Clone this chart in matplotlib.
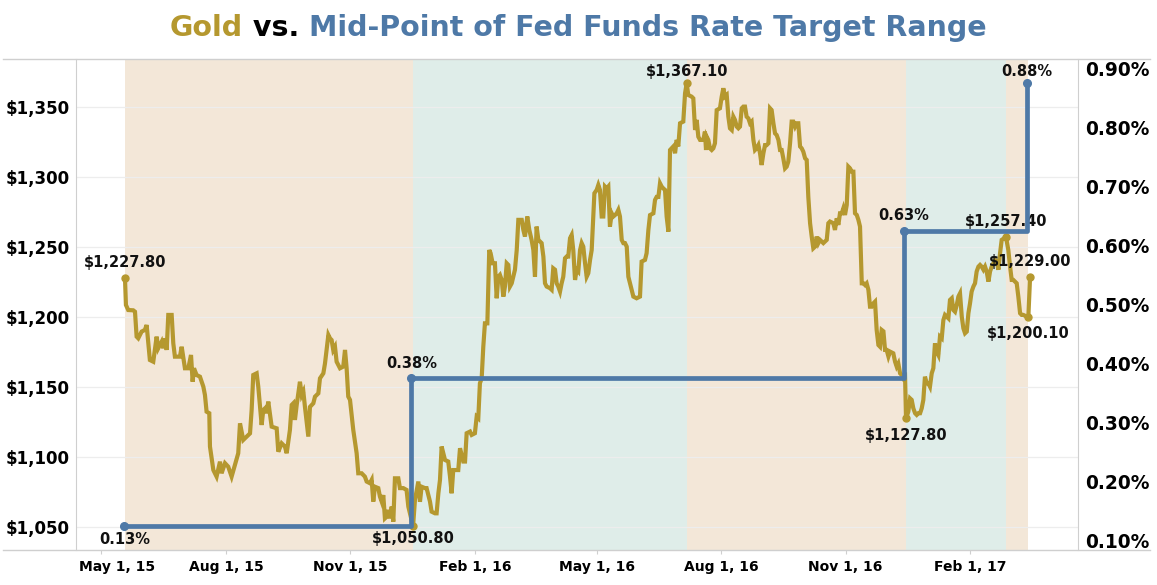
import numpy as np
import pandas as pd
import matplotlib
matplotlib.use("Agg")
import matplotlib.pyplot as plt
from matplotlib.lines import Line2D
from matplotlib.transforms import ScaledTranslation

GOLD = "#B5982F"
BLUE = "#4E79A7"
TAN = "#F3E7D8"
TEAL = "#DFEDE9"
RULE = "#CFCFCF"

START = pd.Timestamp("2015-05-01")

# gold price: days after 2015-05-01, USD/oz
gold_day = [
    17.4, 18.1, 19.8, 23.5, 24.8, 26.0, 27.2, 29.7, 32.1, 33.4,
    35.8, 38.3, 40.8, 42.0, 44.5, 45.7, 46.9, 48.2, 49.4, 51.9,
    53.1, 54.3, 58.0, 59.3, 61.7, 64.2, 66.2, 67.4, 68.4, 70.3,
    72.8, 75.3, 76.5, 77.7, 79.7, 80.2, 82.7, 85.1, 87.6, 88.8,
    91.3, 93.7, 96.2, 98.7, 101.1, 102.4, 104.8, 107.3, 109.8, 111.0,
    112.2, 114.7, 115.9, 118.4, 119.6, 120.9, 122.1, 123.3, 125.8, 129.5,
    130.7, 133.2, 135.6, 136.9, 139.3, 140.6, 141.8, 143.0, 144.3, 146.7,
    148.0, 149.2, 150.4, 152.9, 154.1, 156.6, 157.8, 160.3, 161.5, 164.0,
    165.2, 167.7, 168.9, 170.1, 171.3, 172.6, 173.8, 176.3, 178.7, 180.0,
    181.2, 182.4, 183.7, 186.1, 188.6, 189.8, 192.3, 194.7, 196.0, 198.4,
    199.7, 200.9, 202.1, 204.6, 205.8, 207.1, 208.3, 209.5, 210.8, 212.0,
    213.2, 214.5, 215.7, 216.9, 219.4, 220.6, 223.1, 225.5, 226.8, 228.0,
    230.3,
    231.7, 234.2, 235.4, 236.6, 239.1, 240.3, 242.8, 244.0, 246.5, 247.7,
    249.0, 250.2, 251.4, 253.9, 256.3, 257.6, 258.8, 260.0, 263.7, 265.0,
    267.4, 268.7, 269.9, 272.4, 273.6, 276.0, 277.3, 278.5, 279.7, 281.0,
    282.2, 283.4, 285.2, 286.6, 287.6, 289.1, 290.8, 292.1, 293.3, 294.5,
    295.8, 297.0, 298.2, 299.5, 300.7, 301.9, 303.2, 305.6, 306.9, 308.1,
    310.6, 311.8, 313.0, 314.7, 316.2, 317.9, 319.2, 320.4, 321.6, 322.9,
    324.1, 325.3, 326.6, 327.8, 329.0, 331.5, 332.7, 333.9, 335.2, 336.4,
    337.6, 338.9, 340.1, 341.3, 342.6, 343.8, 345.0, 346.3, 347.5, 348.7,
    350.0, 351.2, 352.4, 353.7, 354.9, 356.1, 357.4, 358.6, 359.8, 361.1,
    362.3, 363.5, 364.3, 366.0, 367.2, 368.4, 369.7, 370.9, 372.1, 373.4,
    374.6, 375.8, 377.1, 378.3, 379.5, 380.8, 382.0, 383.2, 384.5, 385.7,
    386.9, 388.2, 389.4, 390.6, 393.1, 395.5, 398.0, 399.2, 401.7, 402.9,
    404.2, 405.4, 407.9, 409.1, 410.3, 411.6, 412.8, 414.0, 415.3, 416.5,
    417.7, 419.0, 420.2, 421.4, 422.6, 423.9, 425.1, 426.3, 427.6, 430.0,
    431.3, 432.5,
    433.7, 436.2, 437.4, 438.7, 439.9, 441.1, 442.4, 444.8, 446.0, 446.8,
    447.3, 448.5, 449.7, 451.0, 452.2, 453.4, 454.7, 457.1, 458.4, 459.6,
    460.8, 462.1, 463.3, 464.5, 465.8, 467.0, 468.2, 469.5, 470.7, 471.9,
    473.2, 474.4, 475.6, 476.8, 478.1, 479.3, 480.5, 481.8, 483.0, 484.2,
    485.5, 486.7, 487.9, 489.2, 490.4, 491.6, 492.9, 494.1, 495.3, 496.6,
    497.8, 499.0, 500.3, 501.5, 502.7, 503.9, 505.2, 506.4, 507.6, 508.9,
    510.1, 511.3, 512.6, 513.8, 515.0, 516.3, 517.5, 518.7, 520.0, 521.2,
    522.4, 523.7, 524.9, 526.1, 527.4, 528.6, 529.8, 531.0, 532.3, 533.5,
    534.7, 536.0, 537.2, 538.4, 540.9, 542.1, 543.4, 544.6, 545.8, 547.1,
    548.3, 549.5, 550.8, 552.0, 553.2, 554.5, 555.7, 556.9, 558.2, 559.4,
    560.6, 561.9, 563.1, 564.3, 565.5, 566.8, 568.0, 569.2, 570.5, 571.7,
    572.9, 574.2, 575.4, 576.6, 577.9, 579.1, 580.3, 581.6, 582.8, 585.2,
    586.5, 587.7, 588.9, 590.2, 591.4, 592.6, 593.9, 594.6,
    596.3, 597.6, 598.8, 600.0, 601.3, 602.5, 603.7, 605.0, 606.2, 607.4,
    608.6, 609.9, 611.1, 612.3, 613.6, 614.8, 616.0, 617.3, 618.5, 619.7,
    621.0, 622.2, 623.4, 624.7, 625.9, 627.1, 628.4, 629.6, 630.8, 632.1,
    633.3, 634.5, 635.8, 637.0, 638.2, 639.5, 640.7, 641.9, 643.1, 644.4,
    645.6, 646.8, 648.1, 649.3, 650.5, 651.8, 653.0, 654.2, 655.5, 656.7,
    657.9, 659.2, 660.4, 661.6, 662.9, 664.1, 665.3, 668.5, 670.2, 671.5,
    672.7, 673.9, 675.2, 676.4, 677.6, 678.9, 680.1, 681.3, 683.8, 685.0,
    686.3,
]
gold_usd = [
    1227.8, 1208.8, 1205.2, 1205.0, 1204.0, 1186.2, 1185.0, 1189.8, 1191.0, 1194.5,
    1169.5, 1168.3, 1186.2, 1177.9, 1182.6, 1177.9, 1185.0, 1176.7, 1201.7, 1201.7,
    1181.4, 1171.9, 1171.9, 1179.0, 1163.6, 1163.6, 1173.1, 1154.0, 1163.6, 1158.8,
    1157.6, 1150.5, 1144.5, 1132.6, 1131.5, 1107.7, 1090.9, 1086.2, 1096.9, 1088.6,
    1095.8, 1093.3, 1086.2, 1094.6, 1102.9, 1124.3, 1112.4, 1114.8, 1117.1, 1133.8,
    1158.8, 1160.0, 1150.5, 1123.1, 1133.8, 1135.0, 1131.5, 1139.8, 1121.9, 1120.7,
    1104.0, 1110.0, 1107.7, 1102.9, 1119.6, 1137.4, 1138.6, 1126.7, 1137.4, 1154.0,
    1144.5, 1147.0, 1136.0, 1114.8, 1136.0, 1138.6, 1143.3, 1145.7, 1156.4, 1160.0,
    1167.0, 1187.4, 1185.0, 1183.8, 1176.7, 1179.0, 1168.3, 1163.6, 1164.8, 1176.7,
    1163.6, 1143.4, 1141.0, 1119.6, 1102.9, 1088.6, 1088.6, 1086.2, 1082.7, 1081.5,
    1083.9, 1068.4, 1079.0, 1078.0, 1072.0, 1068.4, 1073.0, 1056.4, 1057.6, 1062.4,
    1056.4, 1064.8, 1054.0, 1085.0, 1085.0, 1078.0, 1078.0, 1076.7, 1064.8, 1060.0,
    1050.8,
    1069.6, 1082.7, 1068.2, 1079.0, 1078.0, 1078.0, 1068.4, 1061.2, 1060.0, 1060.0,
    1074.3, 1083.9, 1107.7, 1098.1, 1097.0, 1086.2, 1074.3, 1090.9, 1090.9, 1106.5,
    1097.0, 1097.0, 1117.2, 1118.4, 1116.0, 1117.2, 1129.0, 1127.9, 1152.9, 1156.4,
    1179.0, 1195.7, 1195.7, 1248.1, 1245.8, 1238.6, 1238.6, 1213.6, 1229.0, 1230.3,
    1226.7, 1214.8, 1222.0, 1238.6, 1237.4, 1222.0, 1224.3, 1234.0, 1248.0, 1269.6,
    1269.6, 1262.4, 1257.7, 1272.0, 1262.4, 1255.3, 1248.0, 1229.0, 1264.8, 1255.3,
    1254.1, 1253.0, 1243.4, 1224.3, 1222.0, 1220.8, 1219.7, 1235.0, 1234.0, 1224.3,
    1222.0, 1218.4, 1224.3, 1229.0, 1242.2, 1243.4, 1243.4, 1256.5, 1258.8, 1248.0,
    1226.7, 1234.0, 1232.7, 1248.0, 1253.0, 1250.5, 1238.6, 1229.0, 1231.5, 1241.0,
    1248.0, 1272.0, 1288.6, 1291.0, 1294.5, 1291.0, 1272.0, 1272.0, 1293.4, 1292.0,
    1293.4, 1264.8, 1274.3, 1272.0, 1273.0, 1274.3, 1276.7, 1272.0, 1255.3, 1253.0,
    1253.0, 1250.5, 1229.0, 1224.3, 1214.8, 1213.6, 1214.8, 1239.8, 1241.0, 1245.8,
    1262.4, 1273.0, 1274.3, 1283.8, 1286.0, 1286.0, 1295.7, 1293.4, 1292.0, 1291.0,
    1272.0, 1261.2, 1319.5, 1320.7, 1322.0, 1317.2, 1326.7, 1322.0, 1338.6, 1339.8,
    1360.0, 1367.1,
    1358.8, 1357.6, 1356.4, 1333.8, 1341.0, 1329.0, 1326.7, 1326.7, 1332.6, 1319.5,
    1329.0, 1326.7, 1320.7, 1319.5, 1320.7, 1324.3, 1348.0, 1349.3, 1357.6, 1363.6,
    1357.6, 1358.8, 1343.3, 1335.0, 1333.8, 1343.3, 1341.0, 1336.2, 1335.0, 1336.2,
    1349.3, 1350.5, 1350.5, 1343.3, 1342.1, 1338.6, 1339.8, 1326.7, 1319.5, 1320.7,
    1323.0, 1317.2, 1308.8, 1317.2, 1323.0, 1323.0, 1324.3, 1349.3, 1348.0, 1338.6,
    1331.4, 1330.2, 1326.7, 1319.5, 1319.5, 1313.6, 1306.4, 1307.6, 1311.2, 1324.3,
    1339.8, 1339.8, 1336.2, 1338.6, 1338.6, 1322.0, 1320.7, 1318.3, 1313.6, 1312.4,
    1286.0, 1267.2, 1257.7, 1249.3, 1250.5, 1257.7, 1253.0, 1255.3, 1254.1, 1253.0,
    1254.1, 1255.3, 1267.2, 1268.4, 1267.2, 1262.4, 1270.7, 1266.0, 1274.3, 1274.3,
    1277.9, 1273.1, 1280.3, 1307.6, 1306.4, 1304.0, 1304.0, 1274.3, 1273.1, 1269.6,
    1264.8, 1224.3, 1224.3, 1223.1, 1224.3, 1219.6, 1207.6, 1207.6, 1210.0, 1211.2,
    1191.0, 1180.2, 1179.0, 1191.0, 1190.0, 1176.7, 1176.7, 1172.0, 1175.5, 1174.3,
    1168.3, 1164.8, 1167.0, 1160.0, 1158.8, 1156.4, 1157.6, 1127.8,
    1132.6, 1142.1, 1141.0, 1135.0, 1131.5, 1130.3, 1131.5, 1131.5, 1135.0, 1141.0,
    1157.6, 1152.9, 1152.9, 1150.5, 1160.0, 1163.6, 1181.4, 1175.5, 1173.1, 1186.2,
    1185.0, 1198.0, 1201.7, 1200.5, 1199.3, 1212.4, 1213.6, 1205.2, 1204.0, 1208.8,
    1214.8, 1217.1, 1200.5, 1192.1, 1188.6, 1189.8, 1202.9, 1210.0, 1218.4, 1222.0,
    1224.3, 1232.7, 1236.2, 1237.4, 1236.2, 1234.0, 1236.2, 1232.7, 1225.5, 1232.7,
    1236.2, 1238.6, 1241.0, 1239.8, 1234.0, 1245.8, 1255.3, 1257.4, 1248.0, 1236.2,
    1226.7, 1226.7, 1225.5, 1224.3, 1214.8, 1202.9, 1201.7, 1201.7, 1200.5, 1200.1,
    1229.0,
]

# labelled gold points (days after 2015-05-01)
mark_day = [17.4, 230.3, 432.5, 594.6, 668.5, 685.0, 686.3]
mark_usd = [1227.8, 1050.8, 1367.1, 1127.8, 1257.4, 1200.1, 1229.0]

# mid-point of the fed funds target range
fed_dates = ["2015-05-18", "2015-12-16", "2016-12-14", "2017-03-15"]
fed_mid = [0.125, 0.375, 0.625, 0.875]
fed_text = ["0.13%", "0.38%", "0.63%", "0.88%"]

# shaded trend bands between gold turning points
band_edges = [17.4, 230.3, 432.5, 594.6, 668.5, 685.0]
band_colors = [TAN, TEAL, TAN, TEAL, TAN]

xtick_dates = ["2015-05-01", "2015-08-01", "2015-11-01", "2016-02-01",
               "2016-05-01", "2016-08-01", "2016-11-01", "2017-02-01"]
xtick_text = ["May 1, 15", "Aug 1, 15", "Nov 1, 15", "Feb 1, 16",
              "May 1, 16", "Aug 1, 16", "Nov 1, 16", "Feb 1, 17"]
usd_ticks = [1050, 1100, 1150, 1200, 1250, 1300, 1350]
pct_ticks = [0.1, 0.2, 0.3, 0.4, 0.5, 0.6, 0.7, 0.8, 0.9]


def to_date(days):
    return START + pd.to_timedelta(np.asarray(days, dtype=float), unit="D")


plt.rcParams["font.family"] = ["DejaVu Sans"]
W, H = 1157, 585
fig = plt.figure(figsize=(W / 100, H / 100), dpi=100)
ax = fig.add_axes([76 / W, 1 - 550 / H, (1078 - 76) / W, (550 - 59) / H])
ax2 = ax.twinx()

ax.set_xlim(to_date([-18.8])[0], to_date([721.7])[0])
ax.set_ylim(1033.8, 1384.5)
ax2.set_ylim(0.0843, 0.916)

# bands
edges = to_date(band_edges)
for i, c in enumerate(band_colors):
    ax.axvspan(edges[i], edges[i + 1], color=c, lw=0, zorder=0)

# light grid at $ ticks, over the bands
for v in usd_ticks:
    ax.axhline(v, color="#EDEDED", lw=0.9, zorder=0.6)

# gold line
ax.plot(to_date(gold_day), gold_usd, color=GOLD, lw=3.0, solid_joinstyle="miter", zorder=3)
ax.plot(to_date(mark_day), mark_usd, "o", color=GOLD, ms=5, zorder=4)

# fed funds step line
fd = pd.to_datetime(fed_dates)
ax2.plot(fd, fed_mid, drawstyle="steps-post", color=BLUE, lw=3.4, zorder=3)
ax2.plot(fd, fed_mid, "o", color=BLUE, ms=5.5, zorder=4)

lab = dict(fontsize=10.5, fontweight="bold", color="#111111", ha="center", va="center",
           textcoords="offset points")
gold_dy = [11.3, -8.6, 8.4, -12.2, 10.8, -12.0, 11.3]
for d, v, dy in zip(to_date(mark_day), mark_usd, gold_dy):
    ax.annotate(f"${v:,.2f}", (d, v), xytext=(0, dy), zorder=6, **lab)
fed_dy = [-9.6, 11.0, 11.0, 8.4]
for d, v, t, dy in zip(fd, fed_mid, fed_text, fed_dy):
    ax2.annotate(t, (d, v), xytext=(0, dy), zorder=6, **lab)

# axes styling
for a in (ax, ax2):
    for s in a.spines.values():
        s.set_visible(False)
ax.spines["left"].set_visible(True)
ax.spines["left"].set_color(RULE)
ax.spines["right"].set_visible(True)
ax.spines["right"].set_color(RULE)

ax.set_yticks(usd_ticks)
ax.set_yticklabels([f"${v:,.0f}" for v in usd_ticks])
ax.tick_params(axis="y", length=0, pad=4.5, labelsize=12)
ax2.set_yticks(pct_ticks)
ax2.set_yticklabels([f"{v:.2f}%" for v in pct_ticks])
ax2.tick_params(axis="y", length=0, pad=5, labelsize=13.4)
for t in ax.get_yticklabels() + ax2.get_yticklabels():
    t.set_fontweight("bold")

ax.set_xticks(pd.to_datetime(xtick_dates))
ax.set_xticklabels(xtick_text)
ax.tick_params(axis="x", length=3, color=RULE, pad=4, labelsize=10)
for t in ax.get_xticklabels():
    t.set_fontweight("bold")
first = ax.get_xticklabels()[0]
first.set_transform(first.get_transform() + ScaledTranslation(16 / 100, 0, fig.dpi_scale_trans))

# top and bottom rules running past the axes
for yp in (59, 550):
    fig.add_artist(Line2D([3 / W, 1150 / W], [1 - yp / H] * 2, transform=fig.transFigure,
                          color=RULE, lw=1.0))

# three-colour title, centred
parts = [("Gold", GOLD), (" vs. ", "black"), ("Mid-Point of Fed Funds Rate Target Range", BLUE)]
texts = [fig.text(0, 1 - 28 / H, s, color=c, fontsize=18, fontweight="bold",
                  va="center", ha="left") for s, c in parts]
fig.canvas.draw()
r = fig.canvas.get_renderer()
total = sum(t.get_window_extent(r).width for t in texts)
size = 18 * 819 / total
for t in texts:
    t.set_fontsize(size)
fig.canvas.draw()
widths = [t.get_window_extent(r).width for t in texts]
x = (W - sum(widths)) / 2
for t, w in zip(texts, widths):
    t.set_x(x / W)
    x += w

fig.savefig("out.png", dpi=100)
